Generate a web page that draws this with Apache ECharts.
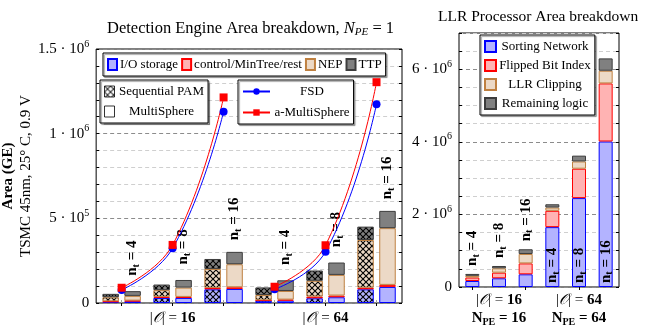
<!DOCTYPE html>
<html>
<head>
<meta charset="utf-8">
<script src="https://cdn.jsdelivr.net/npm/echarts@6/dist/echarts.min.js"></script>
<style>
html, body { margin: 0; padding: 0; background: #fff; }
#chart { width: 645px; height: 330px; }
</style>
</head>
<body>
<div id="chart"></div>
<script>
// ---------- data ----------
// Detection engine: one category per (|O|, n_t) pair
const engineCats = ['16/4', '16/8', '16/16', '64/4', '64/8', '64/16'];
const ntLabels = ['4', '8', '16', '4', '8', '16'];
const orderLabels = ['16', '64'];
const npeLabels = ['16', '64'];

// Sequential PAM area layers (GE)
const seqIO   = [6000, 30000, 81000, 13000, 28000, 81000];
const seqCtrl = [4000, 6000, 8000, 3000, 10000, 9000];
const seqNEP  = [24000, 40000, 112000, 31000, 93000, 282000];
const seqTTP  = [20000, 33000, 59000, 45000, 61000, 79000];

// MultiSphere area layers (GE)
const msIO   = [10000, 30000, 83000, 14000, 34000, 95000];
const msCtrl = [4000, 6000, 10000, 6000, 10000, 12000];
const msNEP  = [28000, 55000, 136000, 51000, 122000, 335000];
const msTTP  = [28000, 45000, 73000, 63000, 73000, 102000];

// Sphere decoder references, per |O| group (n_t = 4, 8, 16)
const fsd16  = [77000, 323000, 1130000];
const fsd64  = [81000, 303000, 1174000];
const aMS16  = [90000, 343000, 1214000];
const aMS64  = [96000, 341000, 1304000];

// LLR processor area layers (GE)
const sortNet  = [166000, 240000, 350000, 1650000, 2450000, 4010000];
const flipIdx  = [95000, 155000, 300000, 450000, 810000, 1600000];
const llrClip  = [47000, 120000, 260000, 90000, 200000, 350000];
const remLogic = [52000, 64000, 130000, 90000, 160000, 340000];

// Tick labels: mantissa and exponent
const engineTickVals = [0, 500000, 1000000, 1500000];
const engineTickMant = ['0', '5', '1', '1.5'];
const engineTickExp  = ['', '5', '6', '6'];
const llrTickVals = [0, 2000000, 4000000, 6000000];
const llrTickMant = ['0', '2', '4', '6'];
const llrTickExp  = ['', '6', '6', '6'];

// ---------- styling helpers ----------
const SERIF = 'Liberation Serif';
const layerNames = ['I/O storage', 'control/MinTree/rest', 'NEP', 'TTP'];
const llrNames = ['Sorting Network', 'Flipped Bit Index', 'LLR Clipping', 'Remaining logic'];
const fills = ['#b3b3ff', '#ffb3b3', '#ecd9c6', '#808080'];
const edges = ['#0000ff', '#ff0000', '#bf8040', '#3c3c3c'];

function crossHatch(fill) {
  const c = document.createElement('canvas');
  c.width = 6; c.height = 6;
  const g = c.getContext('2d');
  g.fillStyle = fill;
  g.fillRect(0, 0, 6, 6);
  g.strokeStyle = '#000';
  g.lineWidth = 1.1;
  g.beginPath();
  g.moveTo(0, 0); g.lineTo(6, 6);
  g.moveTo(6, 0); g.lineTo(0, 6);
  g.stroke();
  return { image: c, repeat: 'repeat' };
}

function tickFormatter(vals, mant, exp) {
  return function (v) {
    const i = vals.indexOf(v);
    if (i < 0) return '';
    if (!exp[i]) return '{n|' + mant[i] + '}';
    return '{n|' + mant[i] + ' · 10}{s|' + exp[i] + '}';
  };
}
const tickRich = {
  n: { fontFamily: SERIF, fontSize: 15, color: '#000' },
  s: { fontFamily: SERIF, fontSize: 10, color: '#000', padding: [0, 0, 10, 0] }
};

const ntRich = {
  b: { fontFamily: SERIF, fontSize: 15, fontWeight: 'bold', color: '#000' },
  t: { fontFamily: SERIF, fontSize: 10, fontWeight: 'bold', color: '#000', padding: [8, 0, 0, 0] }
};
function ntText(i) {
  return '{b|n}{t|t}{b| = ' + ntLabels[i] + '}';
}

const xRich = {
  r: { fontFamily: SERIF, fontSize: 15, color: '#000', lineHeight: 18 },
  o: { fontFamily: SERIF, fontSize: 15, fontStyle: 'italic', color: '#000', lineHeight: 18 },
  b: { fontFamily: SERIF, fontSize: 15, fontWeight: 'bold', color: '#000', lineHeight: 18 },
  bs: { fontFamily: SERIF, fontSize: 10, fontWeight: 'bold', color: '#000', padding: [8, 0, 0, 0] }
};

// ---------- series ----------
const series = [];
const seqLayers = [seqIO, seqCtrl, seqNEP, seqTTP];
const msLayers = [msIO, msCtrl, msNEP, msTTP];

seqLayers.forEach((vals, k) => {
  series.push({
    type: 'bar', name: layerNames[k] + ' (Sequential PAM)', stack: 'seq',
    xAxisIndex: 0, yAxisIndex: 0,
    barWidth: 16.5, barGap: '33%',
    itemStyle: { color: crossHatch(fills[k]), borderColor: edges[k], borderWidth: 1 },
    data: vals
  });
});
msLayers.forEach((vals, k) => {
  const s = {
    type: 'bar', name: layerNames[k], stack: 'ms',
    xAxisIndex: 0, yAxisIndex: 0,
    barWidth: 16.5, barGap: '33%',
    itemStyle: { color: fills[k], borderColor: edges[k], borderWidth: 1 },
    data: vals
  };
  if (k === 3) {
    s.label = {
      show: true, position: 'top', rotate: 90, align: 'center', verticalAlign: 'middle',
      distance: 33, formatter: p => ntText(p.dataIndex), rich: ntRich
    };
  }
  series.push(s);
});

// legend-only entries for the two bar styles
series.push({ type: 'scatter', name: 'Sequential PAM', xAxisIndex: 0, yAxisIndex: 0, data: [],
  itemStyle: { color: crossHatch('#ffffff'), borderColor: '#000', borderWidth: 1 } });
series.push({ type: 'scatter', name: 'MultiSphere', xAxisIndex: 0, yAxisIndex: 0, data: [],
  itemStyle: { color: '#ffffff', borderColor: '#000', borderWidth: 1 } });

function groupLine(name, vals, group, color, symbol) {
  const data = group === 0 ? vals.concat([null, null, null]) : [null, null, null].concat(vals);
  return {
    type: 'line', name: name, xAxisIndex: 0, yAxisIndex: 0, z: 5,
    smooth: 0.45, connectNulls: false,
    symbol: symbol, symbolSize: 8,
    lineStyle: { color: color, width: 1 },
    itemStyle: { color: color },
    data: data
  };
}
series.push(groupLine('FSD', fsd16, 0, '#0000ff', 'circle'));
series.push(groupLine('FSD', fsd64, 1, '#0000ff', 'circle'));
series.push(groupLine('a-MultiSphere', aMS16, 0, '#ff0000', 'rect'));
series.push(groupLine('a-MultiSphere', aMS64, 1, '#ff0000', 'rect'));

const llrLayers = [sortNet, flipIdx, llrClip, remLogic];
llrLayers.forEach((vals, k) => {
  let data = vals;
  let label;
  if (k === 0) {
    data = vals.map((v, i) => i >= 3 ? { value: v, label: { show: true } } : v);
    label = { show: false, position: 'insideBottom', rotate: 90, align: 'left', verticalAlign: 'middle',
      distance: 4, formatter: p => ntText(p.dataIndex), rich: ntRich };
  } else if (k === 3) {
    data = vals.map((v, i) => i < 3 ? { value: v, label: { show: true } } : v);
    label = { show: false, position: 'top', rotate: 90, align: 'left', verticalAlign: 'middle',
      distance: 8, formatter: p => ntText(p.dataIndex), rich: ntRich };
  }
  series.push({
    type: 'bar', name: llrNames[k], stack: 'llr',
    xAxisIndex: 2, yAxisIndex: 2, barWidth: 14,
    itemStyle: { color: fills[k], borderColor: edges[k], borderWidth: 1 },
    label: label,
    data: data
  });
});

// ---------- axes ----------
const gridLineColorsEngine = ['#8c8c8c', '#cfcfcf', '#cfcfcf', '#cfcfcf', '#cfcfcf'];
const gridLineColorsLlr = ['#8c8c8c', '#cfcfcf', '#cfcfcf', '#cfcfcf'];

function xAxisFor(gridIndex, position, withLabels, formatter, margin) {
  return {
    type: 'category', gridIndex: gridIndex, position: position,
    data: engineCats,
    axisLine: { show: false },
    axisTick: { show: true, inside: true, alignWithLabel: true, length: 3,
      lineStyle: { color: position === 'bottom' ? '#a0a0a0' : '#000' } },
    axisLabel: withLabels ? { show: true, interval: 0, margin: margin, formatter: formatter, rich: xRich } : { show: false },
    splitLine: { show: false }
  };
}

function yAxisFor(gridIndex, position, max, interval, labels, colors) {
  return {
    type: 'value', gridIndex: gridIndex, position: position,
    min: 0, max: max, interval: interval,
    axisLine: { show: false },
    axisTick: { show: true, inside: true, length: 3, lineStyle: { color: '#000' } },
    axisLabel: labels ? { show: true, margin: 7, formatter: labels, rich: tickRich } : { show: false },
    splitLine: colors ? { show: true, lineStyle: { color: colors, type: [4, 3], width: 1 } } : { show: false }
  };
}

const legendBox = {
  borderColor: '#000', borderWidth: 1, backgroundColor: '#fff',
  shadowColor: 'rgba(0,0,0,0.35)', shadowBlur: 1, shadowOffsetX: 1.5, shadowOffsetY: 1.5,
  selectedMode: false
};

const orderSymbol = '𝒪';

const option = {
  animation: false,
  backgroundColor: '#fff',
  title: [
    {
      text: '{a|Detection Engine Area breakdown, }{i|N}{s|PE}{a| = 1}',
      left: 102, top: 15,
      textStyle: { fontWeight: 'normal', rich: {
        a: { fontFamily: SERIF, fontSize: 16.5, fontWeight: 'normal', color: '#000' },
        i: { fontFamily: SERIF, fontSize: 16.5, fontWeight: 'normal', fontStyle: 'italic', color: '#000' },
        s: { fontFamily: SERIF, fontSize: 11, fontWeight: 'normal', fontStyle: 'italic', color: '#000', padding: [7, 0, 0, 0] }
      } }
    },
    {
      text: 'LLR Processor Area breakdown',
      left: 433, top: 4,
      textStyle: { fontFamily: SERIF, fontSize: 15.5, fontWeight: 'normal', color: '#000' }
    }
  ],
  grid: [
    { left: 96, right: 243, top: 49, bottom: 27, show: true, borderColor: '#000', borderWidth: 1, backgroundColor: 'transparent' },
    { left: 459, right: 26, top: 33, bottom: 43, show: true, borderColor: '#000', borderWidth: 1, backgroundColor: 'transparent' }
  ],
  xAxis: [
    xAxisFor(0, 'bottom', true, (v, i) => (i === 1 || i === 4)
      ? '{r||}{o|' + orderSymbol + '}{r|| = }{b|' + orderLabels[i === 1 ? 0 : 1] + '}' : '', 6),
    xAxisFor(0, 'top', false),
    xAxisFor(1, 'bottom', true, (v, i) => (i === 1 || i === 4)
      ? '{r||}{o|' + orderSymbol + '}{r|| = }{b|' + orderLabels[i === 1 ? 0 : 1] + '}\n{b|N}{bs|PE}{b| = ' + npeLabels[i === 1 ? 0 : 1] + '}' : '', 4),
    xAxisFor(1, 'top', false)
  ],
  yAxis: [
    Object.assign(yAxisFor(0, 'left', 1500000, 100000, tickFormatter(engineTickVals, engineTickMant, engineTickExp), gridLineColorsEngine), {
      name: '{b|Area (GE)}\n{r|TSMC 45nm, 25° C, 0.9 V}',
      nameLocation: 'middle', nameRotate: 90, nameGap: 58,
      nameTextStyle: { rich: {
        b: { fontFamily: SERIF, fontSize: 15, fontWeight: 'bold', color: '#000', lineHeight: 18 },
        r: { fontFamily: SERIF, fontSize: 15, color: '#000', lineHeight: 18 }
      } }
    }),
    yAxisFor(0, 'right', 1500000, 100000, null, null),
    yAxisFor(1, 'left', 7000000, 500000, tickFormatter(llrTickVals, llrTickMant, llrTickExp), gridLineColorsLlr),
    yAxisFor(1, 'right', 7000000, 500000, null, null)
  ],
  legend: [
    Object.assign({
      left: 103, top: 53, orient: 'horizontal', padding: [5, 4],
      itemWidth: 9, itemHeight: 11, itemGap: 3, icon: 'rect',
      data: layerNames,
      textStyle: { fontFamily: SERIF, fontSize: 13, color: '#000', padding: [0, 0, 0, -2] }
    }, legendBox),
    Object.assign({
      left: 100, top: 80, orient: 'vertical', padding: [5, 4],
      itemWidth: 10, itemHeight: 11, itemGap: 7, icon: 'rect',
      data: [
        { name: 'Sequential PAM', itemStyle: { color: crossHatch('#ffffff'), borderColor: '#000', borderWidth: 1 } },
        { name: 'MultiSphere', itemStyle: { color: '#ffffff', borderColor: '#000', borderWidth: 1 } }
      ],
      formatter: n => '{c|' + n + '}',
      textStyle: { rich: { c: { fontFamily: SERIF, fontSize: 13, color: '#000', width: 84, align: 'center' } } }
    }, legendBox),
    Object.assign({
      left: 238, top: 80, orient: 'vertical', padding: [5, 4],
      itemWidth: 27, itemHeight: 8, itemGap: 8,
      data: ['FSD', 'a-MultiSphere'],
      formatter: n => '{c|' + n + '}',
      textStyle: { rich: { c: { fontFamily: SERIF, fontSize: 13, color: '#000', width: 74, align: 'center' } } }
    }, legendBox),
    Object.assign({
      left: 480, top: 35, orient: 'vertical', padding: [5, 4],
      itemWidth: 11, itemHeight: 11, itemGap: 6, icon: 'rect',
      data: llrNames,
      formatter: n => '{c|' + n + '}',
      textStyle: { rich: { c: { fontFamily: SERIF, fontSize: 13, color: '#000', width: 88, align: 'center' } } }
    }, legendBox)
  ],
  series: series
};

const chart = echarts.init(document.getElementById('chart'), null, { renderer: 'canvas' });
chart.setOption(option);
</script>
</body>
</html>
